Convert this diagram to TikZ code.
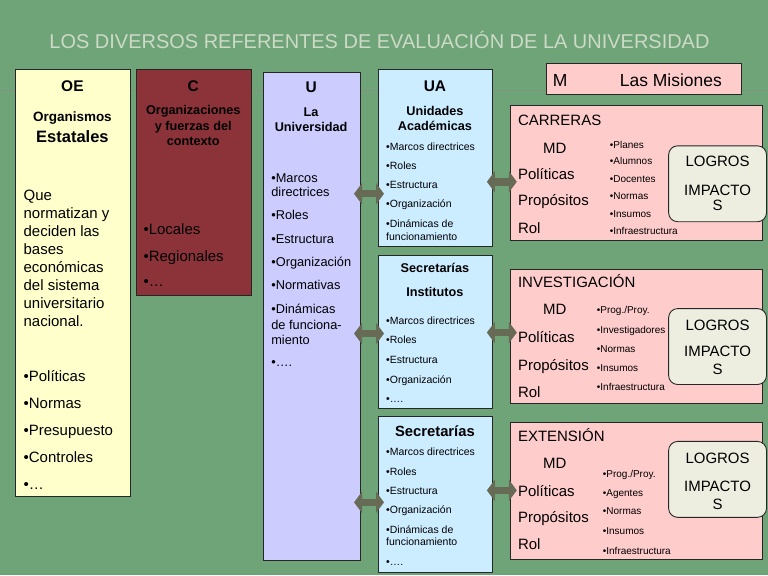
\documentclass[tikz,border=0pt]{standalone}
\usepackage{fontspec}
\setmainfont{Liberation Sans}
\usetikzlibrary{positioning}
\usetikzlibrary{arrows.meta}
\definecolor{slidegreen}{RGB}{111,163,120}
\definecolor{ruleline}{RGB}{126,150,128}
\definecolor{titlegray}{RGB}{204,218,198}
\definecolor{oefill}{RGB}{255,255,204}
\definecolor{cfill}{RGB}{140,51,57}
\definecolor{ufill}{RGB}{204,204,255}
\definecolor{uafill}{RGB}{204,236,255}
\definecolor{misfill}{RGB}{255,204,204}
\definecolor{goalfill}{RGB}{237,237,224}
\definecolor{bridgegray}{RGB}{103,106,84}
\tikzset{
  panel/.style    = { rectangle, draw=black!85, line width=0.9pt, anchor=north west,
                      inner sep=0pt, outer sep=0pt },
  goalbox/.style  = { panel, fill=goalfill, rounded corners=9pt },
  lefttxt/.style  = { inner sep=0pt, anchor=base west },
  midtxt/.style   = { inner sep=0pt, anchor=base },
}
\tikzset{
  letter/.style   = { midtxt, font=\bfseries\fontsize{15.5}{18}\selectfont },
  headtxt/.style  = { midtxt, font=\bfseries\fontsize{12.7}{15}\selectfont },
  bigtxt/.style   = { lefttxt, font=\fontsize{15}{18}\selectfont },
  meantxt/.style  = { lefttxt, font=\fontsize{12.8}{15}\selectfont },
  itemtxt/.style  = { lefttxt, font=\fontsize{10.5}{12}\selectfont },
  minitxt/.style  = { lefttxt, font=\fontsize{10}{12}\selectfont },
  goaltxt/.style  = { midtxt, font=\fontsize{15}{18}\selectfont },
  bridge/.style   = { bridgegray, line width=7.5pt, shorten <=-6pt, shorten >=-6pt,
                      <->, >={Triangle[width=21pt,length=8pt]} },
}
\begin{document}
\begin{tikzpicture}[x=1pt,y=-1pt]
  \fill [slidegreen] (0,0) rectangle (768,576);
  \draw [ruleline, line width=1pt] (0,91) -- (768,91);
  \node (title) [midtxt, text=titlegray, font=\fontsize{20}{24}\selectfont] at (379.5,49)
    {LOS DIVERSOS REFERENTES DE EVALUACIÓN DE LA UNIVERSIDAD};

  % cajas
  \node (oe)   [panel, fill=oefill, minimum width=115, minimum height=427] at (15,70) {};
  \node (c)    [panel, fill=cfill, minimum width=115, minimum height=226,
                right=6pt of oe.north east, anchor=north west] {};
  \node (u)    [panel, fill=ufill, minimum width=97, minimum height=488] at (263,73) {};
  \node (ua1)  [panel, fill=uafill, minimum width=115, minimum height=177] at (378,70) {};
  \node (ua2)  [panel, fill=uafill, minimum width=115, minimum height=153,
                below=9pt of ua1.south west, anchor=north west] {};
  \node (ua3)  [panel, fill=uafill, minimum width=115, minimum height=156,
                below=8pt of ua2.south west, anchor=north west] {};
  \node (m)    [panel, fill=misfill, minimum width=195, minimum height=31] at (547,64) {};
  \node (carr) [panel, fill=misfill, minimum width=252, minimum height=135] at (511,106) {};
  \node (inv)  [panel, fill=misfill, minimum width=252, minimum height=134,
                below=29pt of carr.south west, anchor=north west] {};
  \node (ext)  [panel, fill=misfill, minimum width=252, minimum height=137,
                below=19pt of inv.south west, anchor=north west] {};
  \node (g1)   [goalbox, minimum width=98, minimum height=76] at (669,146) {};
  \node (g2)   [goalbox, minimum width=98, minimum height=76] at (669,309) {};
  \node (g3)   [goalbox, minimum width=98, minimum height=76] at (669,442) {};

  % OE
  \node (oe-t)  [letter] at (72,92) {OE};
  \node (oe-h1) [midtxt, font=\bfseries\fontsize{13.5}{16}\selectfont] at (72,122) {Organismos};
  \node (oe-h2) [midtxt, font=\bfseries\fontsize{16.5}{19}\selectfont] at (72,143) {Estatales};
  \foreach \ypos/\txt [count=\i] in {201/Que, 219/normatizan y, 237/deciden las, 255/bases,
      273/económicas, 291/del sistema, 309/universitario, 327/nacional.}
    \node (oe-p\i) [bigtxt] at (23,\ypos) {\txt};
  \foreach \ypos/\txt [count=\i] in {381.5/•Políticas, 408.8/•Normas, 436.1/•Presupuesto,
      463.4/•Controles, 490/•…}
    \node (oe-b\i) [bigtxt] at (23,\ypos) {\txt};

  % C
  \node (c-t) [letter] at (193,92) {C};
  \foreach \ypos/\txt [count=\i] in {115/Organizaciones, 130.5/y fuerzas del, 146/contexto}
    \node (c-h\i) [headtxt] at (193,\ypos) {\txt};
  \foreach \ypos/\txt [count=\i] in {234.5/•Locales, 262/•Regionales, 287/•…}
    \node (c-b\i) [bigtxt] at (143,\ypos) {\txt};

  % U
  \node (u-t)  [letter] at (311,92.5) {U};
  \node (u-h1) [headtxt] at (311,116.5) {La};
  \node (u-h2) [headtxt] at (311,131.5) {Universidad};
  \foreach \ypos/\txt [count=\i] in {182.5/•Marcos, 197/directrices, 220/•Roles,
      243.5/•Estructura, 267/•Organización, 290/•Normativas, 313.5/•Dinámicas,
      329.5/de funciona-, 344.5/miento, 367/•….}
    \node (u-b\i) [meantxt] at (271,\ypos) {\txt};

  % UA
  \node (ua1-t)  [letter] at (435,91.5) {UA};
  \node (ua1-h1) [headtxt] at (435,115.5) {Unidades};
  \node (ua1-h2) [headtxt] at (435,130.5) {Académicas};
  \foreach \ypos/\txt [count=\i] in {150.4/•Marcos directrices, 169.4/•Roles, 188.7/•Estructura,
      207.7/•Organización, 228/•Dinámicas de, 240.4/funcionamiento}
    \node (ua1-b\i) [itemtxt] at (386,\ypos) {\txt};

  \node (ua2-h1) [headtxt] at (435,272.5) {Secretarías};
  \node (ua2-h2) [headtxt] at (435,296.5) {Institutos};
  \foreach \ypos/\txt [count=\i] in {325.4/•Marcos directrices, 344.4/•Roles, 364.4/•Estructura,
      383.7/•Organización, 403.5/•….}
    \node (ua2-b\i) [itemtxt] at (386,\ypos) {\txt};

  \node (ua3-h) [midtxt, font=\bfseries\fontsize{14.8}{17}\selectfont] at (435,437) {Secretarías};
  \foreach \ypos/\txt [count=\i] in {456.4/•Marcos directrices, 475.7/•Roles, 495/•Estructura,
      514/•Organización, 534.4/•Dinámicas de, 546.4/funcionamiento, 566/•….}
    \node (ua3-b\i) [itemtxt] at (386,\ypos) {\txt};

  % Misiones
  \node (m-l) [lefttxt, font=\fontsize{17.5}{20}\selectfont] at (553,86.6) {M};
  \node (m-r) [lefttxt, font=\fontsize{17.5}{20}\selectfont] at (620,86.6) {Las Misiones};

  \node (carr-t)  [bigtxt] at (518,125.3) {CARRERAS};
  \node (carr-md) [goaltxt] at (555,153.3) {MD};
  \foreach \ypos/\txt [count=\i] in {179.3/Políticas, 206/Propósitos, 233.6/Rol}
    \node (carr-m\i) [bigtxt] at (518,\ypos) {\txt};
  \foreach \ypos/\txt [count=\i] in {148.5/•Planes, 165.2/•Alumnos, 182.8/•Docentes,
      200.2/•Normas, 217.8/•Insumos, 235.2/•Infraestructura}
    \node (carr-b\i) [minitxt] at (610,\ypos) {\txt};

  \node (inv-t)  [bigtxt] at (518,288.3) {INVESTIGACIÓN};
  \node (inv-md) [goaltxt] at (555,315.3) {MD};
  \foreach \ypos/\txt [count=\i] in {343.3/Políticas, 371.3/Propósitos, 398.3/Rol}
    \node (inv-m\i) [bigtxt] at (518,\ypos) {\txt};
  \foreach \ypos/\txt [count=\i] in {313.5/{•Prog./Proy.}, 333.5/•Investigadores, 352.8/•Normas,
      371.8/•Insumos, 391.2/•Infraestructura}
    \node (inv-b\i) [minitxt] at (597,\ypos) {\txt};

  \node (ext-t)  [bigtxt] at (518,442) {EXTENSIÓN};
  \node (ext-md) [goaltxt] at (555,469.6) {MD};
  \foreach \ypos/\txt [count=\i] in {497/Políticas, 523.6/Propósitos, 550.3/Rol}
    \node (ext-m\i) [bigtxt] at (518,\ypos) {\txt};
  \foreach \ypos/\txt [count=\i] in {478.5/{•Prog./Proy.}, 496.8/•Agentes, 515.2/•Normas,
      535.2/•Insumos, 555.2/•Infraestructura}
    \node (ext-b\i) [minitxt] at (603,\ypos) {\txt};

  % logros
  \node (g1-a) [goaltxt] at (718,167) {LOGROS};
  \node (g1-b) [goaltxt] at (718,195.3) {IMPACTO};
  \node (g1-c) [goaltxt] at (718,211) {S};
  \node (g2-a) [goaltxt] at (718,331) {LOGROS};
  \node (g2-b) [goaltxt] at (718,357) {IMPACTO};
  \node (g2-c) [goaltxt] at (718,375.3) {S};
  \node (g3-a) [goaltxt] at (718,463.6) {LOGROS};
  \node (g3-b) [goaltxt] at (718,492) {IMPACTO};
  \node (g3-c) [goaltxt] at (718,510.3) {S};

  % flechas
  \draw [bridge] (u.east |- 0,194)   -- (ua1.west |- 0,194);
  \draw [bridge] (u.east |- 0,334)   -- (ua2.west |- 0,334);
  \draw [bridge] (u.east |- 0,503)   -- (ua3.west |- 0,503);
  \draw [bridge] (ua1.east |- 0,182) -- (carr.west |- 0,182);
  \draw [bridge] (ua2.east |- 0,333) -- (inv.west |- 0,333);
  \draw [bridge] (ua3.east |- 0,491) -- (ext.west |- 0,491);
\end{tikzpicture}
\end{document}
